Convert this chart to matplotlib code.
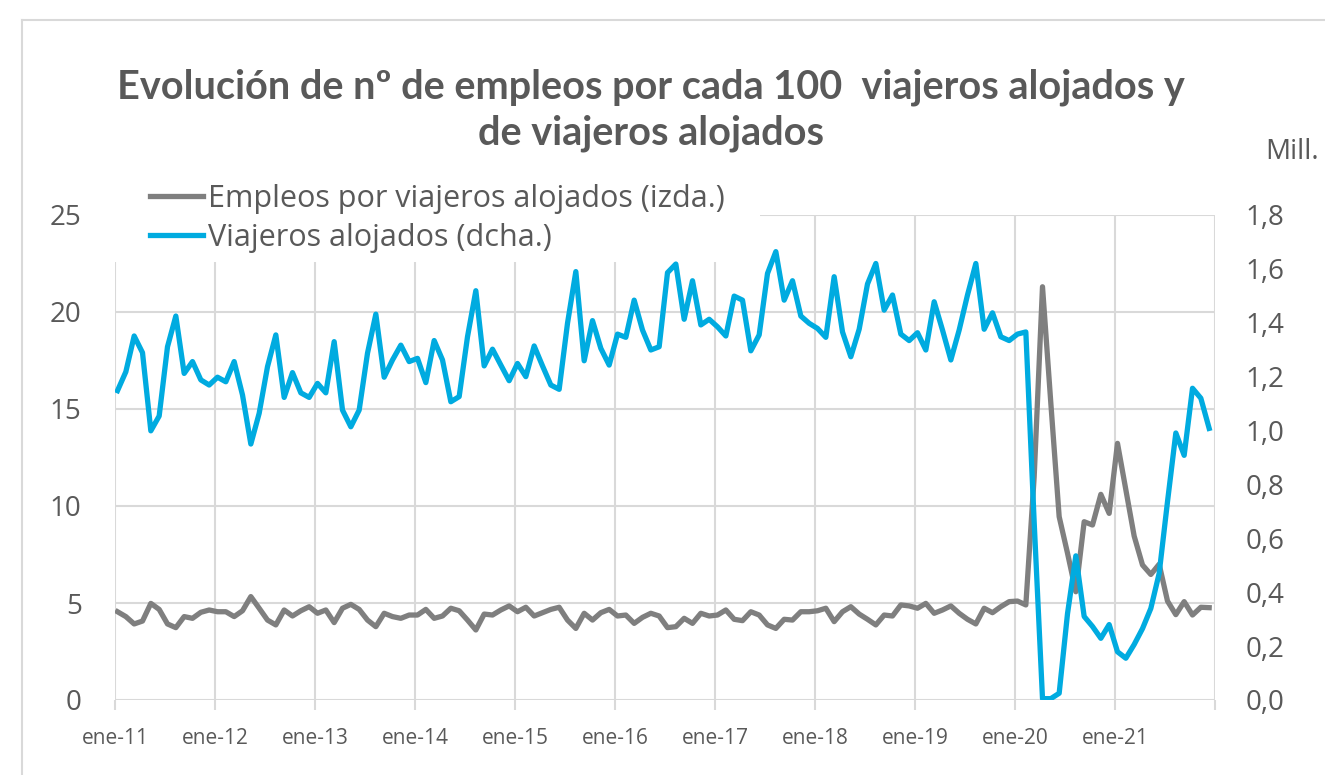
import matplotlib
matplotlib.use("Agg")
import matplotlib.pyplot as plt
from matplotlib.lines import Line2D
from matplotlib.patches import Rectangle
import numpy as np

# monthly series, ene-11 .. dic-21
empleos = [
    4.55, 4.30, 3.92, 4.07, 4.98, 4.67, 3.92, 3.73, 4.30, 4.21, 4.52, 4.64,
    4.55, 4.55, 4.30, 4.60, 5.33, 4.73, 4.12, 3.87, 4.64, 4.33, 4.60, 4.81,
    4.47, 4.64, 3.99, 4.73, 4.93, 4.67, 4.12, 3.78, 4.47, 4.30, 4.21, 4.38,
    4.38, 4.67, 4.21, 4.33, 4.73, 4.60, 4.12, 3.61, 4.43, 4.38, 4.64, 4.85,
    4.55, 4.78, 4.33, 4.50, 4.67, 4.78, 4.12, 3.69, 4.47, 4.12, 4.50, 4.67,
    4.33, 4.38, 3.95, 4.26, 4.47, 4.33, 3.73, 3.78, 4.21, 3.95, 4.47, 4.33,
    4.38, 4.64, 4.16, 4.09, 4.55, 4.38, 3.87, 3.69, 4.16, 4.12, 4.55, 4.55,
    4.60, 4.73, 4.04, 4.55, 4.81, 4.43, 4.16, 3.87, 4.38, 4.33, 4.90, 4.85,
    4.73, 4.98, 4.47, 4.64, 4.85, 4.47, 4.16, 3.92, 4.73, 4.50, 4.81, 5.07,
    5.10, 4.90, 11.5, 21.3, 15.3, 9.45, 7.57, 5.58, 9.19, 9.02, 10.6, 9.62,
    13.23, 10.85, 8.45, 6.96, 6.47, 7.00, 5.10, 4.40, 5.07, 4.38, 4.78, 4.76,
]
viajeros = [
    1.148, 1.218, 1.351, 1.289, 0.999, 1.054, 1.311, 1.425, 1.212, 1.256, 1.188, 1.169,
    1.198, 1.181, 1.256, 1.132, 0.950, 1.064, 1.237, 1.355, 1.123, 1.215, 1.140, 1.123,
    1.175, 1.140, 1.330, 1.076, 1.014, 1.076, 1.287, 1.432, 1.198, 1.262, 1.317, 1.256,
    1.268, 1.178, 1.334, 1.262, 1.107, 1.126, 1.348, 1.519, 1.240, 1.302, 1.243, 1.185,
    1.249, 1.200, 1.314, 1.240, 1.169, 1.153, 1.398, 1.590, 1.259, 1.408, 1.305, 1.243,
    1.358, 1.346, 1.484, 1.373, 1.299, 1.311, 1.586, 1.618, 1.413, 1.556, 1.392, 1.413,
    1.385, 1.351, 1.499, 1.484, 1.296, 1.355, 1.583, 1.664, 1.484, 1.556, 1.425, 1.398,
    1.379, 1.346, 1.571, 1.366, 1.274, 1.376, 1.544, 1.620, 1.447, 1.503, 1.358, 1.334,
    1.363, 1.299, 1.478, 1.373, 1.262, 1.373, 1.503, 1.620, 1.376, 1.437, 1.348, 1.334,
    1.358, 1.366, 0.660, 0.005, 0.005, 0.025, 0.320, 0.535, 0.310, 0.273, 0.229, 0.280,
    0.179, 0.155, 0.206, 0.265, 0.340, 0.470, 0.736, 0.991, 0.908, 1.157, 1.120, 1.008,
]
year_labels = ["ene-11", "ene-12", "ene-13", "ene-14", "ene-15", "ene-16",
               "ene-17", "ene-18", "ene-19", "ene-20", "ene-21"]
left_ticks = [0, 5, 10, 15, 20, 25]
right_ticks = [0.0, 0.2, 0.4, 0.6, 0.8, 1.0, 1.2, 1.4, 1.6, 1.8]

GRAY = "#7f7f7f"
BLUE = "#00abe0"
TXT = "#595959"
GRID = "#d9d9d9"
FONT = "Open Sans"

W, H = 1325, 775
fig = plt.figure(figsize=(W / 100, H / 100), dpi=100)
ax = fig.add_axes([115 / W, 1 - 700 / H, 1100 / W, 485 / H])
ax2 = ax.twinx()

x = np.arange(len(empleos)) + 0.3
ax.plot(x, empleos, color=GRAY, lw=3.8, solid_joinstyle="round",
        label="Empleos por viajeros alojados (izda.)", zorder=3)
ax2.plot(x, viajeros, color=BLUE, lw=3.8, solid_joinstyle="round",
         label="Viajeros alojados (dcha.)", zorder=3)

ax.set_xlim(0, 132)
ax.set_ylim(0, 25)
ax2.set_ylim(0, 1.8)

xt = np.arange(0, 133, 12)
ax.set_xticks(xt)
ax.set_xticklabels(year_labels + [""])
ax.set_yticks(left_ticks)
ax.set_yticklabels([str(v) for v in left_ticks])
ax2.set_yticks(right_ticks)
ax2.set_yticklabels([f"{v:.1f}".replace(".", ",") for v in right_ticks])

ax.grid(True, color=GRID, lw=1.5)
ax.set_axisbelow(True)
for a in (ax, ax2):
    for s in a.spines.values():
        s.set_visible(False)
ax.tick_params(axis="x", length=7, color=GRID, width=1.5, pad=13,
               labelsize=15, labelcolor=TXT)
ax.tick_params(axis="y", length=0, pad=24, labelsize=20, labelcolor=TXT)
ax2.tick_params(axis="y", length=0, pad=22, labelsize=20, labelcolor=TXT)
for lab in ax.get_xticklabels() + ax.get_yticklabels() + ax2.get_yticklabels():
    lab.set_fontfamily(FONT)

# white box behind the legend hides the gridlines there
ax.add_patch(Rectangle((115 / W, 1 - 262 / H), 645 / W, 60 / H,
                       transform=fig.transFigure, facecolor="white",
                       edgecolor="none", zorder=1, clip_on=False))

# chart area border (partly visible)
fig.add_artist(Line2D([22 / W, 22 / W], [0, 1 - 20 / H], color=GRID, lw=1.5))
fig.add_artist(Line2D([22 / W, 1], [1 - 20 / H, 1 - 20 / H], color=GRID, lw=1.5))

fig.text(651 / W, 1 - 110 / H,
         "Evolución de nº de empleos por cada 100  viajeros alojados y\nde viajeros alojados",
         ha="center", va="center", fontsize=28.5, fontweight="bold", color=TXT,
         family="Lato", linespacing=1.3)
fig.text(1265 / W, 1 - 152 / H, "Mill.", ha="left", va="center", fontsize=20,
         color=TXT, family=FONT)

h1, l1 = ax.get_legend_handles_labels()
h2, l2 = ax2.get_legend_handles_labels()
leg = ax2.legend(h1 + h2, l1 + l2, loc="upper left",
                 bbox_to_anchor=(150 / W, 1 - 184 / H), bbox_transform=fig.transFigure,
                 frameon=False, handlelength=1.75, handletextpad=0.15,
                 labelspacing=0.3, borderpad=0, borderaxespad=0,
                 prop={"family": FONT, "size": 22})
for t in leg.get_texts():
    t.set_color(TXT)

fig.savefig("out.png", dpi=100)
